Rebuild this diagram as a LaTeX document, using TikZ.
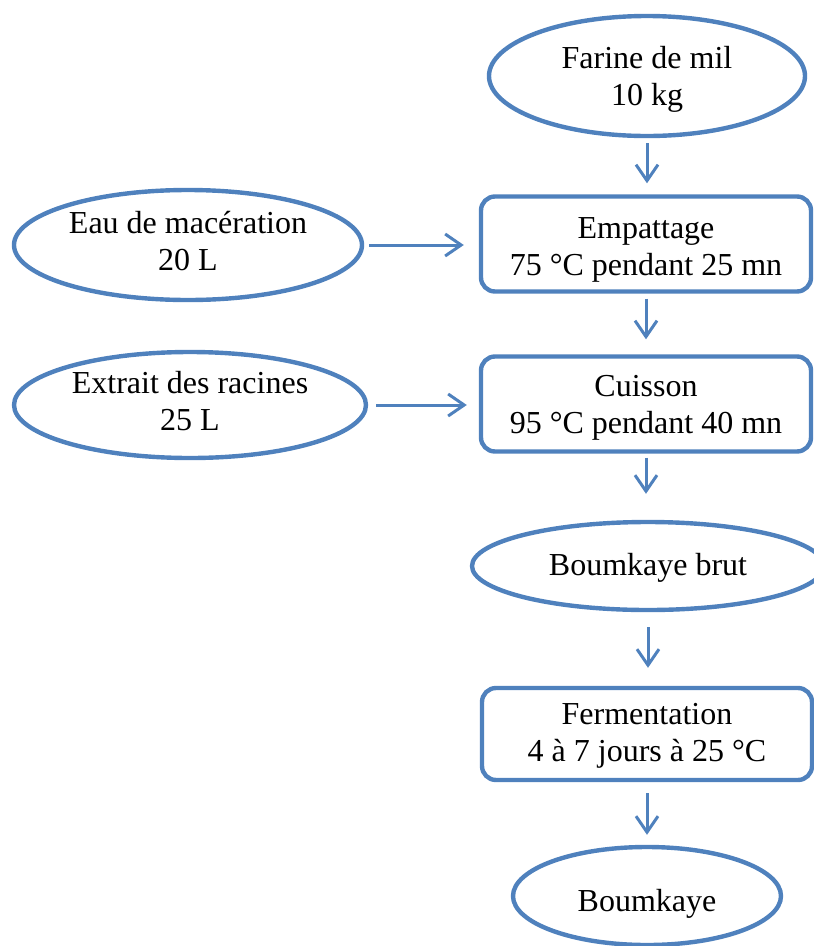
\documentclass[tikz,border=0pt]{standalone}
\usepackage{fontspec}
\setmainfont{Liberation Serif}
\usetikzlibrary{shapes.geometric,arrows.meta}
\definecolor{ofblue}{RGB}{79,129,189}
\tikzset{
  base/.style={draw=ofblue, line width=4.4pt, inner sep=0pt},
  lab/.style={inner sep=0pt, align=center, text=black,
    font=\fontsize{32}{37}\selectfont},
  oval/.style={base, ellipse},
  stepbox/.style={base, rectangle, rounded corners=14pt,
    minimum width=330pt, minimum height=95pt},
  arr/.style={draw=ofblue, line width=3pt,
    -{Straight Barb[length=16pt,width=22pt,line width=3pt]}}
}
\begin{document}
\begin{tikzpicture}[x=1pt,y=-1pt]
\useasboundingbox (0,0) rectangle (814,946);
\clip (0,0) rectangle (814,946);
\node[oval, minimum width=316pt, minimum height=120pt,
  label={[lab,yshift=-3pt]center:{Farine de mil\\10 kg}}] (farine) at (647,76) {};
\node[stepbox,
  label={[lab,yshift=-6pt]center:{Empattage\\75 °C pendant 25 mn}}] (emp) at (646,244) {};
\node[oval, minimum width=348pt, minimum height=110pt,
  label={[lab,yshift=4pt]center:{Eau de macération\\20 L}}] (eau) at (188,245) {};
\node[stepbox,
  label={[lab,yshift=-4pt]center:{Cuisson\\95 °C pendant 40 mn}}] (cuis) at (646,404) {};
\node[oval, minimum width=352pt, minimum height=106pt,
  label={[lab,yshift=3.5pt]center:{Extrait des racines\\25 L}}] (extr) at (190,405) {};
\node[oval, minimum width=352pt, minimum height=88pt,
  label={[lab,yshift=-2pt]center:{Boumkaye brut}}] (brut) at (648,566) {};
\node[stepbox, minimum height=92pt,
  label={[lab,yshift=-2pt]center:{Fermentation\\4 à 7 jours à 25 °C}}] (ferm) at (647,734) {};
\node[oval, minimum width=268pt, minimum height=98pt,
  label={[lab,yshift=-8pt]center:{Boumkaye}}] (bk) at (647,896) {};

\draw[arr, shorten <=5pt, shorten >=11pt] (farine.south) -- (farine.south |- emp.north);
\draw[arr, shorten <=5pt, shorten >=15pt] (eau.east) -- (eau.east -| emp.west);
\draw[arr, shorten <=5pt, shorten >=15pt] (emp.south) -- (cuis.north);
\draw[arr, shorten <=8pt, shorten >=12pt] (extr.east) -- (extr.east -| cuis.west);
\draw[arr, shorten <=4pt, shorten >=26pt] (cuis.south) -- (cuis.south |- brut.north);
\draw[arr, shorten <=15pt, shorten >=18pt] (brut.south) -- (brut.south |- ferm.north);
\draw[arr, shorten <=11pt, shorten >=10pt] (ferm.south) -- (ferm.south |- bk.north);
\end{tikzpicture}
\end{document}
